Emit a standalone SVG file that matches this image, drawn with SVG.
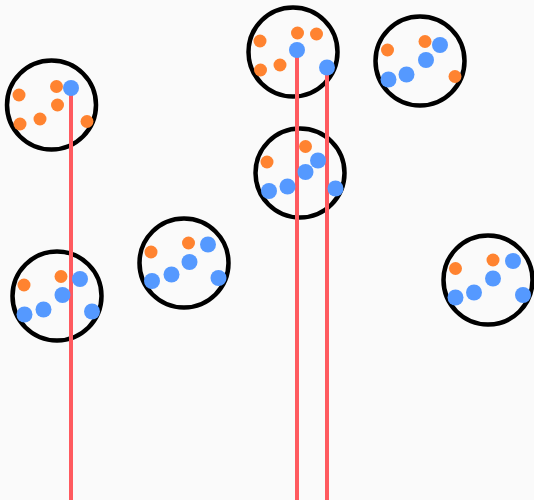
<svg xmlns="http://www.w3.org/2000/svg" width="534" height="500" viewBox="0 0 534 500">
<style>
.ring{fill:none;stroke:#000;stroke-width:4.5}
.o{fill:#ff8330}
.b{fill:#5599ff}
.ln{stroke:#ff5a5f;stroke-width:4;fill:none}
</style>
<rect width="534" height="500" fill="#fafafa"/>
<g id="rings">
<circle class="ring" cx="51.5" cy="105" r="44.5"/>
<circle class="ring" cx="57" cy="296" r="44.5"/>
<circle class="ring" cx="184" cy="263" r="44.5"/>
<circle class="ring" cx="293" cy="52" r="44.5"/>
<circle class="ring" cx="300" cy="173" r="44.5"/>
<circle class="ring" cx="420" cy="61" r="44.5"/>
<circle class="ring" cx="488" cy="280" r="44.5"/>
</g>
<g id="connectors">
<line class="ln" x1="71" y1="88" x2="71" y2="500"/>
<line class="ln" x1="297" y1="50" x2="297" y2="500"/>
<line class="ln" x1="327" y1="68" x2="327" y2="500"/>
</g>
<g id="node1">
<circle class="o" cx="19" cy="95" r="6.5"/>
<circle class="o" cx="56.5" cy="86.5" r="6.5"/>
<circle class="o" cx="57.5" cy="105" r="6.5"/>
<circle class="o" cx="20" cy="124" r="6.5"/>
<circle class="o" cx="40" cy="119" r="6.5"/>
<circle class="o" cx="87" cy="121.5" r="6.5"/>
<circle class="b" cx="71" cy="88" r="8"/>
</g>
<g id="node2">
<circle class="o" cx="24" cy="285" r="6.5"/>
<circle class="o" cx="61" cy="276.5" r="6.5"/>
<circle class="b" cx="80" cy="279" r="8"/>
<circle class="b" cx="62.5" cy="295" r="8"/>
<circle class="b" cx="24.5" cy="314.5" r="8"/>
<circle class="b" cx="43.5" cy="309.5" r="8"/>
<circle class="b" cx="92" cy="311.5" r="8"/>
</g>
<g id="node3">
<circle class="o" cx="151" cy="252" r="6.5"/>
<circle class="o" cx="188.5" cy="243" r="6.5"/>
<circle class="b" cx="208" cy="244.5" r="8"/>
<circle class="b" cx="189.5" cy="262" r="8"/>
<circle class="b" cx="152" cy="281" r="8"/>
<circle class="b" cx="171.5" cy="274.5" r="8"/>
<circle class="b" cx="218.5" cy="278" r="8"/>
</g>
<g id="node4">
<circle class="o" cx="260" cy="41" r="6.5"/>
<circle class="o" cx="297.5" cy="33" r="6.5"/>
<circle class="o" cx="316.5" cy="34" r="6.5"/>
<circle class="o" cx="260.5" cy="70" r="6.5"/>
<circle class="o" cx="280" cy="65" r="6.5"/>
<circle class="b" cx="297" cy="50" r="8"/>
<circle class="b" cx="327" cy="67.5" r="8"/>
</g>
<g id="node5">
<circle class="o" cx="267" cy="162" r="6.5"/>
<circle class="o" cx="305.5" cy="146.5" r="6.5"/>
<circle class="b" cx="318" cy="160.5" r="8"/>
<circle class="b" cx="305.5" cy="172" r="8"/>
<circle class="b" cx="269" cy="191" r="8"/>
<circle class="b" cx="287.5" cy="186.5" r="8"/>
<circle class="b" cx="335.5" cy="188.5" r="8"/>
</g>
<g id="node6">
<circle class="o" cx="387.5" cy="50" r="6.5"/>
<circle class="o" cx="425" cy="41.5" r="6.5"/>
<circle class="b" cx="440" cy="45" r="8"/>
<circle class="b" cx="426" cy="60" r="8"/>
<circle class="b" cx="388.5" cy="79.5" r="8"/>
<circle class="b" cx="406.5" cy="74.5" r="8"/>
<circle class="o" cx="455" cy="76.5" r="6.5"/>
</g>
<g id="node7">
<circle class="o" cx="455.5" cy="268.5" r="6.5"/>
<circle class="o" cx="493" cy="260" r="6.5"/>
<circle class="b" cx="513" cy="261" r="8"/>
<circle class="b" cx="493" cy="278.5" r="8"/>
<circle class="b" cx="455.5" cy="297.5" r="8"/>
<circle class="b" cx="474" cy="292.5" r="8"/>
<circle class="b" cx="523" cy="295" r="8"/>
</g>
</svg>
